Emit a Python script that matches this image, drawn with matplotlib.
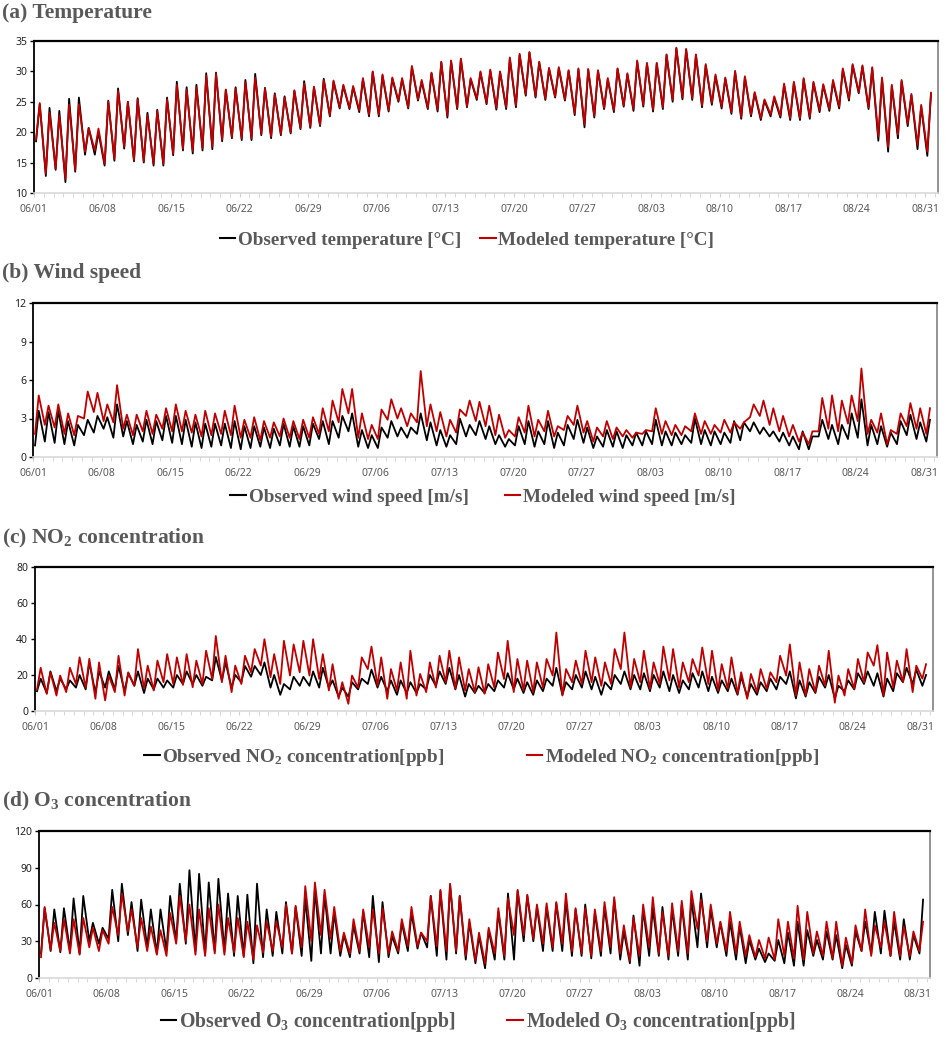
import numpy as np
import matplotlib
matplotlib.use("Agg")
import matplotlib.pyplot as plt
from matplotlib.lines import Line2D

plt.rcParams['mathtext.fontset'] = 'custom'
plt.rcParams['mathtext.rm'] = 'Liberation Serif:bold'
plt.rcParams['mathtext.bf'] = 'Liberation Serif:bold'
plt.rcParams['mathtext.it'] = 'Liberation Serif:bold'

# ---------------- data (daily minima / maxima) ----------------
date_labels = ['06/01', '06/08', '06/15', '06/22', '06/29', '07/06', '07/13',
               '07/20', '07/27', '08/03', '08/10', '08/17', '08/24', '08/31']
tick_days = [0, 7, 14, 21, 28, 35, 42, 49, 56, 63, 70, 77, 84, 91]

temp_obs_max = [24.6, 24.0, 23.5, 25.5, 25.7, 20.7, 20.0, 25.2, 27.2, 25.0,
                25.6, 23.2, 23.7, 25.7, 28.3, 27.4, 27.8, 29.7, 29.8, 27.0,
                27.4, 28.6, 29.6, 27.3, 26.4, 25.9, 26.8, 28.4, 27.4, 28.8,
                28.3, 27.6, 27.4, 28.7, 29.9, 29.3, 28.8, 28.7, 30.7, 28.3,
                29.7, 31.5, 31.7, 32.0, 28.7, 29.8, 30.1, 29.9, 32.1, 32.7,
                33.1, 31.5, 30.4, 30.5, 30.1, 30.3, 30.3, 30.1, 28.7, 30.4,
                29.5, 31.6, 31.3, 31.3, 32.7, 33.8, 33.6, 32.7, 31.0, 29.2,
                28.8, 29.9, 29.0, 26.4, 25.2, 25.6, 27.7, 28.1, 28.7, 28.1,
                27.7, 28.3, 30.3, 31.0, 30.8, 30.5, 28.8, 27.6, 28.4, 26.1,
                24.2, 26.3]
temp_mod_max = [24.8, 23.2, 22.8, 24.5, 24.6, 20.7, 20.6, 25.0, 26.8, 25.0,
                25.4, 22.8, 23.5, 25.4, 27.8, 27.0, 27.4, 29.3, 29.6, 27.0,
                27.2, 28.2, 29.0, 27.2, 26.2, 25.7, 26.9, 28.0, 27.5, 28.6,
                28.5, 27.8, 27.6, 28.9, 30.0, 29.5, 29.0, 28.9, 30.9, 28.6,
                29.8, 31.6, 31.8, 32.1, 28.9, 30.0, 30.3, 30.0, 32.3, 32.9,
                33.2, 31.6, 30.6, 30.7, 30.2, 30.5, 30.4, 30.2, 28.9, 30.5,
                29.7, 31.8, 31.4, 31.4, 32.8, 33.9, 33.7, 32.8, 31.2, 29.5,
                29.0, 30.1, 29.2, 26.6, 25.4, 25.9, 28.0, 28.3, 28.9, 28.3,
                27.9, 28.6, 30.5, 31.2, 31.0, 30.7, 29.0, 27.8, 28.6, 26.3,
                24.5, 26.5]
temp_obs_min = [18.5, 12.8, 13.8, 11.8, 13.5, 16.3, 16.3, 14.5, 15.3, 17.3,
                15.2, 15.0, 14.5, 14.5, 16.2, 17.0, 16.5, 17.0, 17.2, 18.5,
                19.0, 18.7, 18.7, 19.5, 19.0, 19.5, 19.8, 20.5, 20.7, 21.0,
                22.6, 23.9, 23.8, 23.3, 22.6, 22.6, 23.4, 25.0, 23.9, 25.2,
                23.8, 23.4, 22.4, 23.8, 24.1, 25.3, 24.6, 23.7, 23.8, 24.1,
                26.0, 25.7, 25.3, 25.7, 25.2, 22.8, 20.8, 22.4, 23.8, 23.3,
                24.2, 23.5, 24.2, 23.4, 23.8, 25.0, 25.4, 25.3, 24.1, 24.5,
                23.9, 23.0, 22.2, 22.6, 22.0, 22.6, 22.4, 22.0, 22.0, 22.2,
                23.3, 23.5, 23.9, 25.2, 26.4, 23.8, 18.6, 16.8, 19.0, 21.0,
                17.2, 16.1]
temp_mod_min = [18.8, 13.2, 14.0, 12.3, 13.8, 16.8, 17.0, 14.8, 15.6, 17.6,
                15.4, 15.2, 14.8, 14.8, 16.5, 17.3, 16.9, 17.4, 17.6, 18.8,
                19.2, 19.0, 19.0, 19.7, 19.3, 19.7, 20.0, 20.7, 20.9, 21.2,
                22.8, 24.1, 24.0, 23.6, 22.9, 22.9, 23.6, 25.2, 24.1, 25.4,
                24.0, 23.7, 22.7, 24.0, 24.3, 25.5, 24.8, 24.0, 24.1, 24.4,
                26.2, 25.9, 25.5, 25.9, 25.4, 23.1, 21.3, 22.7, 24.0, 23.6,
                24.4, 23.8, 24.5, 23.7, 24.1, 25.3, 25.7, 25.6, 24.4, 24.8,
                24.2, 23.3, 22.5, 22.9, 22.3, 22.9, 22.7, 22.3, 22.3, 22.5,
                23.6, 23.8, 24.2, 25.5, 26.6, 24.1, 19.3, 17.6, 19.6, 21.4,
                17.9, 16.8]

wind_obs_max = [3.6, 3.5, 3.6, 2.8, 2.5, 2.9, 3.2, 3.1, 4.1, 2.8,
                2.5, 2.9, 2.8, 3.2, 3.2, 2.9, 2.7, 2.6, 2.6, 2.6,
                2.8, 2.4, 2.4, 2.3, 2.2, 2.6, 2.4, 2.4, 2.6, 2.8,
                2.8, 3.2, 3.4, 2.1, 1.7, 2.3, 2.8, 2.3, 2.3, 3.4,
                2.7, 2.1, 1.7, 3.0, 2.5, 2.8, 2.4, 1.7, 1.4, 2.4,
                2.8, 2.0, 2.8, 1.9, 2.5, 2.9, 2.3, 1.6, 2.1, 2.0,
                1.7, 1.9, 2.0, 2.9, 2.0, 1.9, 1.7, 3.0, 2.1, 2.0,
                1.9, 2.8, 2.7, 2.7, 2.3, 2.0, 1.9, 1.6, 2.0, 1.6,
                2.9, 2.5, 2.5, 3.4, 4.5, 2.5, 2.4, 1.9, 2.8, 3.3,
                2.7, 2.9]
wind_mod_max = [4.8, 4.0, 4.1, 3.4, 3.2, 5.1, 5.0, 4.1, 5.6, 3.3,
                3.3, 3.6, 3.3, 3.8, 4.1, 3.6, 3.3, 3.6, 3.4, 3.6,
                4.0, 2.9, 3.1, 2.8, 2.7, 3.0, 2.8, 2.9, 3.1, 3.8,
                4.4, 5.3, 5.3, 3.4, 2.5, 3.7, 4.5, 3.8, 3.4, 6.7,
                4.1, 3.5, 2.9, 3.7, 4.4, 4.3, 4.0, 3.3, 2.1, 3.1,
                4.0, 2.9, 3.6, 2.4, 3.2, 4.0, 2.8, 2.3, 2.8, 2.3,
                2.1, 1.9, 2.1, 3.8, 2.8, 2.5, 2.4, 3.4, 2.8, 2.5,
                2.9, 2.7, 2.7, 4.1, 4.4, 3.8, 3.2, 2.5, 1.9, 2.0,
                4.6, 4.8, 4.4, 4.8, 6.9, 2.9, 3.4, 2.1, 3.4, 4.2,
                3.8, 3.8]
wind_obs_min = [0.9, 1.2, 1.1, 1.0, 0.9, 1.7, 1.9, 2.2, 1.5, 1.6,
                1.0, 1.2, 1.0, 1.3, 1.1, 1.0, 0.8, 0.7, 0.8, 0.9,
                0.7, 0.6, 0.7, 0.8, 0.7, 0.9, 0.8, 0.8, 0.9, 1.4,
                1.0, 1.5, 2.0, 0.8, 0.7, 0.7, 1.5, 1.6, 1.5, 1.8,
                1.3, 0.9, 0.8, 1.0, 1.6, 1.7, 1.4, 1.0, 0.8, 0.9,
                1.0, 0.8, 1.0, 0.7, 0.9, 1.4, 1.1, 0.7, 0.8, 0.8,
                0.7, 0.9, 0.9, 1.0, 0.9, 0.9, 1.0, 1.1, 1.0, 0.9,
                1.0, 1.1, 1.3, 2.0, 1.8, 1.6, 1.2, 0.9, 0.6, 0.6,
                1.6, 1.4, 1.0, 1.4, 1.5, 0.9, 1.0, 0.8, 1.0, 1.7,
                1.4, 1.2]
wind_mod_min = [1.8, 2.5, 2.3, 1.8, 1.7, 3.0, 3.5, 2.8, 2.7, 2.2,
                1.7, 2.0, 1.8, 2.2, 2.0, 2.0, 1.9, 1.6, 1.7, 1.8,
                1.7, 1.5, 1.5, 1.3, 1.5, 1.6, 1.5, 1.4, 1.5, 1.8,
                2.0, 2.7, 3.4, 1.5, 1.4, 1.4, 2.9, 3.0, 2.4, 2.7,
                2.4, 2.0, 1.6, 1.9, 3.2, 2.8, 2.4, 1.7, 1.5, 1.6,
                1.9, 1.6, 2.0, 1.6, 2.1, 2.5, 1.9, 1.2, 1.6, 1.4,
                1.6, 1.5, 1.8, 2.0, 1.8, 1.7, 1.7, 2.0, 1.8, 1.8,
                1.9, 1.9, 2.2, 3.1, 3.2, 2.5, 2.0, 1.6, 1.2, 1.0,
                2.0, 2.2, 2.0, 2.6, 2.8, 1.8, 1.9, 1.0, 1.8, 2.4,
                2.2, 1.8]

no2_obs_max = [18, 22, 18, 17, 20, 27, 22, 22, 25, 21,
               22, 18, 18, 17, 20, 22, 20, 19, 30, 27,
               20, 25, 25, 27, 20, 15, 19, 19, 22, 24,
               17, 13, 16, 18, 23, 19, 17, 17, 16, 15,
               20, 22, 24, 20, 15, 14, 15, 17, 21, 18,
               16, 17, 18, 24, 16, 20, 22, 19, 16, 20,
               22, 20, 21, 20, 22, 20, 17, 21, 22, 19,
               17, 18, 19, 15, 16, 18, 19, 22, 17, 16,
               19, 20, 14, 17, 21, 22, 21, 18, 21, 24,
               23, 20]
no2_obs_min = [11, 10, 11, 12, 13, 12, 10, 13, 12, 11,
               14, 10, 12, 13, 13, 15, 15, 14, 17, 17,
               13, 16, 19, 20, 13, 9, 12, 14, 14, 13,
               13, 8, 8, 12, 15, 13, 11, 9, 10, 10,
               12, 14, 15, 12, 8, 10, 10, 11, 13, 12,
               10, 9, 11, 14, 9, 12, 13, 12, 9, 12,
               15, 12, 12, 11, 13, 11, 10, 12, 13, 11,
               10, 11, 9, 8, 9, 11, 12, 15, 7, 8,
               10, 13, 7, 11, 12, 15, 14, 8, 11, 16,
               15, 14]
no2_mod_max = [24, 21.5, 19.7, 24, 29.8, 29, 27, 19.7, 30.7, 21.5,
               34.4, 25.2, 28, 31.6, 29.8, 31.6, 28, 33.5, 41.7, 30.7,
               25.2, 30.7, 34.4, 39.9, 31.6, 39, 37, 39, 39.9, 31.6,
               26, 16, 19.7, 29.8, 35.8, 29.8, 23.3, 27, 33.5, 20.6,
               27, 30.7, 33.5, 29.8, 23.3, 24.3, 26, 32.5, 39, 28.9,
               28, 27, 28.9, 43.6, 23.3, 28, 33.5, 29.8, 27, 34.4,
               43.6, 28.9, 33.5, 27, 35.8, 34.4, 27, 28.9, 35.3, 33.5,
               26, 29.8, 21.5, 20.6, 23.3, 21.5, 30.7, 37, 27, 23.3,
               25.2, 33.5, 19.7, 23.3, 28.9, 32.5, 36.6, 32.5, 28, 34.4,
               25.2, 26]
no2_mod_min = [12, 9.5, 8.6, 10.5, 15, 13, 6.8, 5.9, 10.5, 8.6,
               14, 12.3, 11.4, 16, 15, 14.5, 13.2, 15, 17.8, 16,
               10.5, 15, 21.5, 25.2, 18.8, 15, 19.7, 21.5, 19.7, 17.8,
               11.4, 6.8, 4, 13, 23.3, 14, 6.8, 11.4, 6.8, 8.6,
               10.5, 13, 16, 12.3, 11.4, 10.5, 9.6, 13, 17.8, 10.5,
               11.4, 10.5, 13, 19.7, 8.6, 16, 15, 16, 14, 15,
               23.3, 13, 16, 12.3, 15, 17, 13, 16, 19.7, 15,
               11.4, 12.3, 9.6, 6.8, 10.5, 12.3, 16, 19.7, 8.6, 8.6,
               10.5, 14, 4.6, 8.6, 12.3, 16, 25.2, 8.6, 13, 16,
               10.5, 18]

o3_obs_max = [57, 56, 57, 65, 67, 45, 41, 72, 77, 62,
              64, 56, 56, 67, 77, 88, 85, 78, 81, 69,
              67, 68, 77, 56, 54, 62, 58, 65, 72, 68,
              53, 35, 43, 54, 67, 62, 34, 45, 53, 37,
              67, 71, 76, 67, 45, 34, 39, 54, 69, 71,
              67, 58, 58, 61, 63, 56, 60, 53, 58, 64,
              38, 51, 56, 57, 58, 56, 60, 64, 69, 56,
              45, 46, 42, 31, 24, 20, 31, 37, 46, 39,
              31, 38, 35, 27, 38, 46, 54, 55, 46, 48,
              35, 64]
o3_mod_max = [58, 45, 48, 48, 49, 41, 39, 58, 69, 56,
              49, 42, 39, 53, 67, 60, 56, 57, 60, 49,
              49, 46, 43, 46, 46, 60, 59, 75, 78, 72,
              58, 37, 48, 56, 56, 57, 38, 48, 58, 37,
              67, 72, 77, 67, 48, 37, 41, 57, 65, 72,
              68, 60, 61, 62, 69, 57, 57, 56, 62, 66,
              43, 49, 60, 66, 54, 61, 63, 71, 64, 60,
              46, 54, 46, 35, 31, 33, 48, 46, 59, 54,
              38, 46, 46, 33, 43, 56, 43, 46, 54, 42,
              38, 46]
o3_obs_min = [20, 22, 21, 22, 20, 30, 28, 32, 30, 35,
              22, 25, 20, 22, 30, 28, 22, 20, 22, 22,
              18, 18, 12, 17, 18, 20, 20, 18, 14, 20,
              20, 18, 17, 20, 17, 13, 17, 20, 22, 24,
              25, 18, 15, 20, 15, 12, 8, 15, 15, 15,
              30, 30, 22, 22, 22, 18, 18, 16, 18, 20,
              15, 12, 10, 18, 18, 15, 18, 15, 25, 25,
              25, 18, 15, 12, 15, 13, 14, 12, 10, 10,
              18, 15, 15, 8, 10, 22, 20, 20, 18, 15,
              15, 20]
o3_mod_min = [17, 23, 22, 20, 19, 25, 22, 28, 35, 38,
              25, 22, 19, 18, 28, 30, 19, 18, 20, 19,
              21, 17, 15, 21, 22, 25, 20, 25, 30, 35,
              32, 22, 20, 22, 25, 20, 20, 22, 26, 26,
              30, 26, 22, 22, 18, 14, 12, 20, 18, 35,
              35, 32, 28, 25, 28, 22, 20, 18, 22, 25,
              20, 14, 18, 25, 20, 18, 22, 20, 40, 30,
              28, 22, 20, 18, 17, 16, 15, 18, 16, 15,
              20, 18, 16, 10, 12, 22, 18, 25, 18, 18,
              18, 22]

titles = ['(a) Temperature', '(b) Wind speed',
          r'(c) NO$_{\mathbf{2}}$ concentration', r'(d) O$_{\mathbf{3}}$ concentration']
legend_obs = ['Observed temperature [\u00b0C]', 'Observed wind speed [m/s]',
              r'Observed NO$_{\mathbf{2}}$ concentration[ppb]', r'Observed O$_{\mathbf{3}}$ concentration[ppb]']
legend_mod = ['Modeled temperature [\u00b0C]', 'Modeled wind speed [m/s]',
              r'Modeled NO$_{\mathbf{2}}$ concentration[ppb]', r'Modeled O$_{\mathbf{3}}$ concentration[ppb]']

# ---------------- layout ----------------
W, H = 946, 1040
fig = plt.figure(figsize=(W / 100, H / 100), dpi=100)

RED = '#C00000'
GRAY_TXT = '#595959'

def rect(l, t, r, b):
    return [l / W, 1 - b / H, (r - l) / W, (b - t) / H]

panels = [
    dict(rect=rect(34, 41, 938, 193), ylim=(10, 35), yticks=[10, 15, 20, 25, 30, 35],
         obs=(temp_obs_min, temp_obs_max), mod=(temp_mod_min, temp_mod_max),
         title_y=13, leg=(467, 240), colsp=1.0, fs=13.8),
    dict(rect=rect(33, 303, 937, 457), ylim=(0, 12), yticks=[0, 3, 6, 9, 12],
         obs=(wind_obs_min, wind_obs_max), mod=(wind_mod_min, wind_mod_max),
         title_y=273, leg=(483, 497), colsp=1.9, fs=13.8),
    dict(rect=rect(35, 567, 933, 711), ylim=(0, 80), yticks=[0, 20, 40, 60, 80],
         obs=(no2_obs_min, no2_obs_max), mod=(no2_mod_min, no2_mod_max),
         title_y=538, leg=(482, 757), colsp=4.3, fs=13.8),
    dict(rect=rect(39, 831, 930, 978), ylim=(0, 120), yticks=[0, 30, 60, 90, 120],
         obs=(o3_obs_min, o3_obs_max), mod=(o3_mod_min, o3_mod_max),
         title_y=801, leg=(478, 1022), colsp=2.6, fs=14.2),
]

def build(mins, maxs):
    n = len(mins)
    d = np.arange(n)
    x = np.empty(2 * n)
    y = np.empty(2 * n)
    x[0::2] = d + 5 / 24
    x[1::2] = d + 14 / 24
    y[0::2] = mins
    y[1::2] = maxs
    return x, y

for i, p in enumerate(panels):
    ax = fig.add_axes(p['rect'])
    xo, yo = build(*p['obs'])
    xm, ym = build(*p['mod'])
    ax.plot(xo, yo, color='black', lw=1.3, solid_joinstyle='round')
    ax.plot(xm, ym, color=RED, lw=1.3, solid_joinstyle='round')
    ax.set_xlim(0, 92.3)
    ax.set_ylim(*p['ylim'])
    ax.set_yticks(p['yticks'])
    ax.set_xticks(tick_days)
    ax.set_xticklabels(date_labels)
    ax.set_xticks(np.arange(93), minor=True)
    ax.spines['top'].set_linewidth(1.6)
    ax.spines['top'].set_color('black')
    ax.spines['left'].set_linewidth(1.3)
    ax.spines['left'].set_color('black')
    ax.spines['right'].set_color('#808080')
    ax.spines['right'].set_linewidth(1.2)
    ax.spines['bottom'].set_color('#d9d9d9')
    ax.spines['bottom'].set_linewidth(1.2)
    ax.tick_params(axis='x', which='both', direction='out', length=3,
                   color='#d0d0d0', labelsize=7.5, labelcolor=GRAY_TXT, pad=5)
    ax.tick_params(axis='y', direction='out', length=3, width=1,
                   color='black', labelsize=7.5, labelcolor='#222222', pad=2)
    for lab in ax.get_xticklabels() + ax.get_yticklabels():
        lab.set_fontfamily('Noto Sans')

    fig.text(2 / W, 1 - p['title_y'] / H, titles[i], fontfamily='Liberation Serif',
             fontweight='bold', fontsize=15.5, color=GRAY_TXT, va='center', ha='left')

    handles = [Line2D([], [], color='black', lw=1.5), Line2D([], [], color=RED, lw=1.5)]
    lx, ly = p['leg']
    fig.legend(handles, [legend_obs[i], legend_mod[i]], loc='center',
               bbox_to_anchor=(lx / W, 1 - ly / H), ncol=2, frameon=False,
               handlelength=0.8, handletextpad=0.15, columnspacing=p['colsp'],
               prop=dict(family='Liberation Serif', weight='bold', size=p['fs']),
               labelcolor=GRAY_TXT, borderaxespad=0, borderpad=0)

fig.savefig('out.png', dpi=100)
